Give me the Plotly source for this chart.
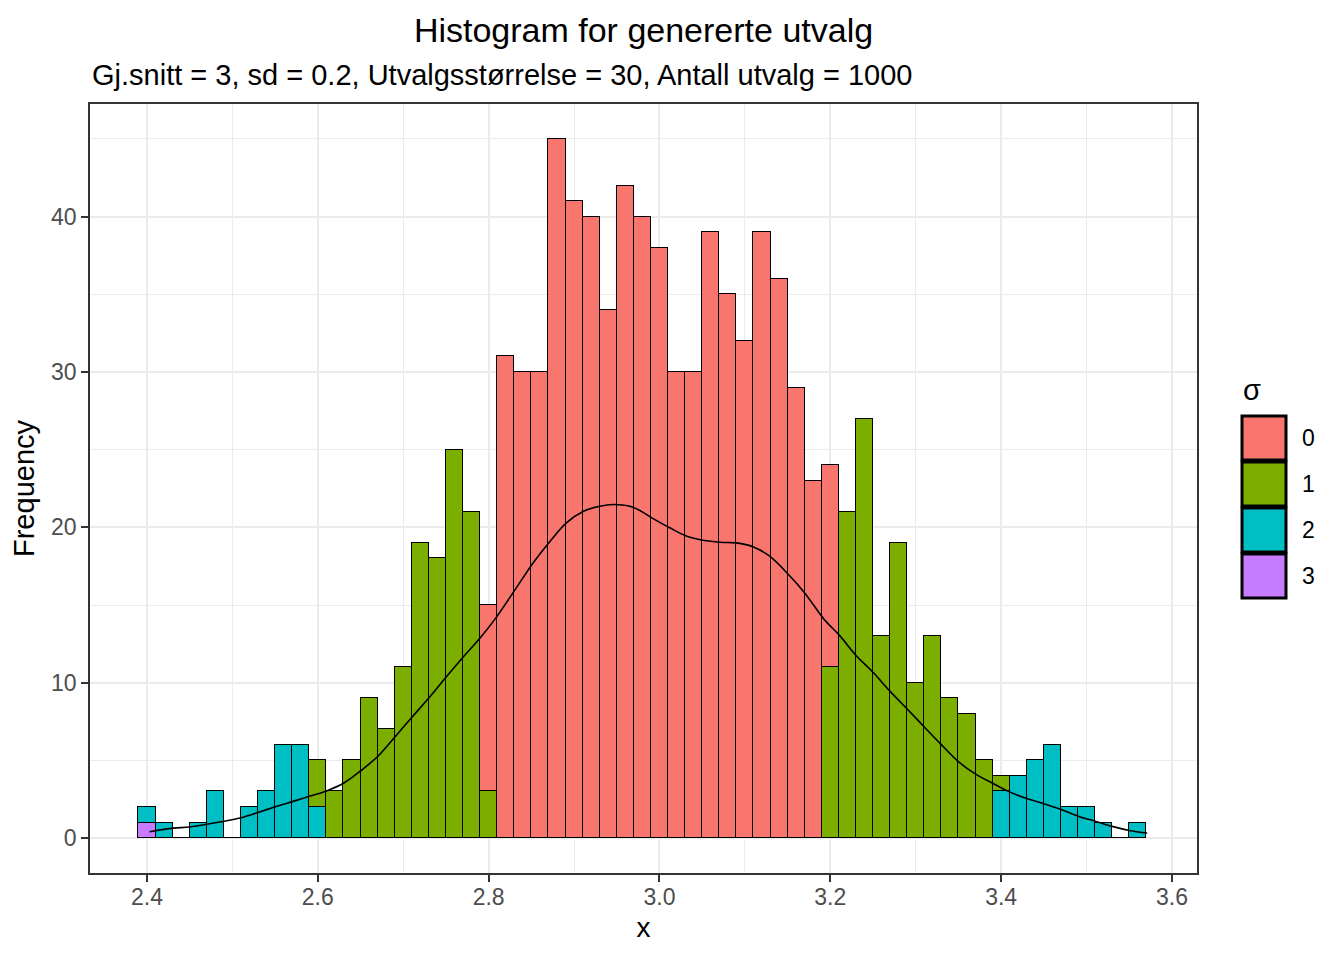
import plotly.graph_objects as go

# histogram bins (centre of first bin and bin width)
bin_start = 2.40
bin_width = 0.02
n_bins = 59
bin_centers = [round(bin_start + bin_width * i, 2) for i in range(n_bins)]

# counts per sigma group, one value per bin
counts_sigma0 = [0] * 20 + [12, 31, 30, 30, 45, 41, 40, 34, 42, 40, 38, 30, 30, 39, 35, 32, 39, 36, 29, 23, 13] + [0] * 18
counts_sigma1 = ([0] * 10 + [3, 3, 5, 9, 7, 11, 19, 18, 25, 21, 3] + [0] * 19
                 + [11, 21, 27, 13, 19, 10, 13, 9, 8, 5, 1] + [0] * 8)
counts_sigma2 = ([1, 1, 0, 1, 3, 0, 2, 3, 6, 6, 2] + [0] * 39
                 + [3, 4, 5, 6, 2, 2, 1, 0, 1])
counts_sigma3 = [1] + [0] * 58

# scaled density curve
curve_x = [2.403, 2.431, 2.450, 2.489, 2.509, 2.530, 2.552, 2.571, 2.591, 2.611,
           2.631, 2.651, 2.671, 2.691, 2.711, 2.731, 2.751, 2.771, 2.790, 2.807,
           2.831, 2.852, 2.872, 2.891, 2.911, 2.930, 2.946, 2.969, 2.991, 3.012,
           3.032, 3.051, 3.071, 3.090, 3.110, 3.129, 3.151, 3.170, 3.193, 3.211,
           3.231, 3.250, 3.270, 3.290, 3.310, 3.330, 3.351, 3.371, 3.391, 3.411,
           3.431, 3.451, 3.471, 3.491, 3.511, 3.530, 3.550, 3.571]
curve_y = [0.41, 0.64, 0.71, 1.07, 1.29, 1.65, 2.04, 2.36, 2.70, 3.05,
           3.56, 4.36, 5.30, 6.55, 7.83, 9.08, 10.41, 11.70, 12.88, 14.06,
           15.99, 17.71, 19.11, 20.29, 21.04, 21.36, 21.47, 21.30, 20.61, 19.97,
           19.43, 19.17, 19.04, 19.00, 18.74, 18.14, 16.96, 15.78, 14.06, 13.03,
           11.70, 10.67, 9.44, 8.31, 7.15, 6.01, 4.87, 4.08, 3.50, 2.94,
           2.53, 2.19, 1.82, 1.39, 1.07, 0.75, 0.49, 0.32]

groups = ["0", "1", "2", "3"]
group_colors = ["#F8766D", "#7CAE00", "#00BFC4", "#C77CFF"]
group_counts = [counts_sigma0, counts_sigma1, counts_sigma2, counts_sigma3]

x_ticks = [2.4, 2.6, 2.8, 3.0, 3.2, 3.4, 3.6]
x_ticklabels = ["2.4", "2.6", "2.8", "3.0", "3.2", "3.4", "3.6"]
x_minor = [2.5, 2.7, 2.9, 3.1, 3.3, 3.5]
y_ticks = [0, 10, 20, 30, 40]

FONT = "Liberation Sans"
OFF = 8  # page body margin the figure sits inside
W, H = 1344 - OFF, 960 - OFF
ML, MR, MT, MB = 90 - OFF, 147, 104 - OFF, 87
PW, PH = W - ML - MR, H - MT - MB

fig = go.Figure()

# ggplot stacks first level on top, so add from the last group upward
for name, col, cnt in reversed(list(zip(groups, group_colors, group_counts))):
    fig.add_trace(go.Bar(
        x=bin_centers, y=cnt, width=bin_width, name=name,
        marker=dict(color=col, line=dict(color="black", width=1)),
        showlegend=False,
    ))

fig.add_trace(go.Scatter(x=curve_x, y=curve_y, mode="lines", line_shape="spline",
                         line=dict(color="black", width=1.6), showlegend=False))

# hand-made legend to get ggplot-sized keys (positions given in screen pixels)
def px_x(p):
    return (p - OFF - ML) / PW

def px_y(p):
    return (H - MB - (p - OFF)) / PH

fig.add_annotation(x=px_x(1241), y=px_y(390), xref="paper", yref="paper", text="σ",
                   showarrow=False, xanchor="left", yanchor="middle",
                   font=dict(family=FONT, size=29, color="black"))
key_top, key_h, key_gap = 416, 44, 2
for i, (name, col) in enumerate(zip(groups, group_colors)):
    y0 = key_top + i * (key_h + key_gap)
    fig.add_shape(type="rect", xref="paper", yref="paper",
                  x0=px_x(1242), x1=px_x(1286), y0=px_y(y0 + key_h), y1=px_y(y0),
                  fillcolor=col, line=dict(color="black", width=3))
    fig.add_annotation(x=px_x(1300), y=px_y(y0 + key_h / 2), xref="paper", yref="paper",
                       text=name, showarrow=False, xanchor="left", yanchor="middle",
                       font=dict(family=FONT, size=23, color="black"))

fig.add_annotation(x=0, y=px_y(75), xref="paper", yref="paper",
                   text="Gj.snitt = 3, sd = 0.2, Utvalgsstørrelse = 30, Antall utvalg = 1000",
                   showarrow=False, xanchor="left", yanchor="middle",
                   font=dict(family=FONT, size=29, color="black"))

fig.update_layout(
    width=W, height=H,
    margin=dict(l=ML, r=MR, t=MT, b=MB),
    barmode="stack", bargap=0,
    plot_bgcolor="white", paper_bgcolor="white",
    font=dict(family=FONT, color="black"),
    title=dict(text="Histogram for genererte utvalg", x=0.5, xref="paper", xanchor="center",
               y=1 - (30 - OFF) / H, yref="container", yanchor="middle",
               font=dict(family=FONT, size=34, color="black")),
)

axis_common = dict(
    showline=True, mirror=True, linecolor="#333333", linewidth=1.5,
    showgrid=True, gridcolor="#EBEBEB", gridwidth=1.6,
    zeroline=False, ticks="outside", ticklen=7, tickwidth=1.5, tickcolor="#333333",
    tickfont=dict(family=FONT, size=23, color="#4D4D4D"),
)
fig.update_xaxes(
    range=[2.3333, 3.6293], tickvals=x_ticks, ticktext=x_ticklabels, ticklabelstandoff=-4,
    minor=dict(tickvals=x_minor, showgrid=True, gridcolor="#EBEBEB", gridwidth=0.8, ticklen=0),
    title=dict(text="x", font=dict(family=FONT, size=28, color="black"), standoff=8),
    **axis_common,
)
fig.update_yaxes(
    range=[-2.25, 47.25], tickvals=y_ticks,
    minor=dict(dtick=5, tick0=0, showgrid=True, gridcolor="#EBEBEB", gridwidth=0.8, ticklen=0),
    title=dict(text="Frequency", font=dict(family=FONT, size=29, color="black"), standoff=10),
    **axis_common,
)

fig.write_html("out.html")
